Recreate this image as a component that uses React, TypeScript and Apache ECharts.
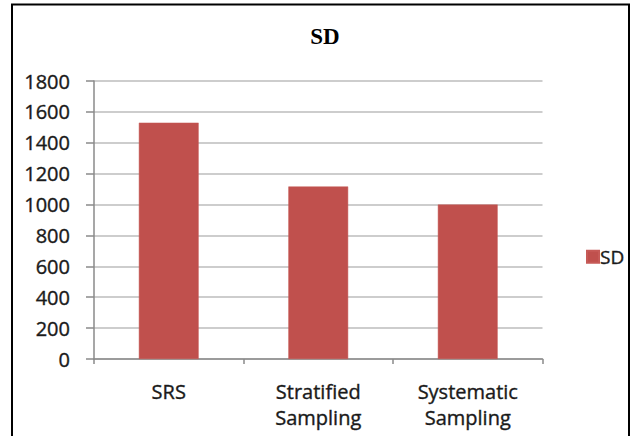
import React, { useEffect, useRef } from "react";
import * as echarts from "echarts";

const categories = ["SRS", "Stratified\nSampling", "Systematic\nSampling"];
const sdValues = [1530, 1117, 1000];
const seriesName = "SD";
const titleText = "SD";

export default function App() {
  const ref = useRef<HTMLDivElement>(null);
  useEffect(() => {
    if (!ref.current) return;
    const chart = echarts.init(ref.current, null, { renderer: "svg" });
    const font = "Open Sans";
    const heavy = { textBorderColor: "#333333", textBorderWidth: 0.4 };
    chart.setOption({
      animation: false,
      backgroundColor: "#ffffff",
      graphic: [
        {
          type: "rect",
          shape: { x: 12, y: 4.5, width: 617, height: 440 },
          style: { fill: "none", stroke: "#000000", lineWidth: 2 },
          z: 100,
        },
        {
          type: "text",
          x: 325,
          y: 36,
          style: {
            text: titleText,
            font: "bold 23px 'Liberation Serif'",
            fill: "#000000",
            textAlign: "center",
            textVerticalAlign: "middle",
          },
        },
      ],
      legend: {
        data: [seriesName],
        left: 581,
        top: 242,
        orient: "vertical",
        itemWidth: 12,
        itemHeight: 12,
        itemGap: 4,
        icon: "rect",
        textStyle: { fontFamily: font, fontSize: 19, color: "#1a1a1a", padding: [0, 0, 0, -4], ...heavy },
      },
      grid: { left: 94, right: 89.5, top: 81, bottom: 77, containLabel: false },
      xAxis: {
        type: "category",
        data: categories,
        axisLine: { show: true, lineStyle: { color: "#8a8a8a", width: 1.5 } },
        axisTick: { show: true, length: 5, alignWithLabel: false, lineStyle: { color: "#8a8a8a", width: 1.5 } },
        axisLabel: {
          margin: 19,
          fontFamily: font,
          fontSize: 20,
          lineHeight: 26,
          color: "#1a1a1a",
          ...heavy,
        },
      },
      yAxis: {
        type: "value",
        min: 0,
        max: 1800,
        interval: 200,
        axisLine: { show: true, lineStyle: { color: "#8a8a8a", width: 1.5 } },
        axisTick: { show: true, length: 8, lineStyle: { color: "#8a8a8a", width: 1.5 } },
        axisLabel: {
          margin: 24,
          fontFamily: font,
          fontSize: 20,
          color: "#1a1a1a",
          formatter: (v: number) => String(v),
          ...heavy,
        },
        splitLine: { show: true, lineStyle: { color: "#bdbdbd", width: 1.5 } },
      },
      series: [
        {
          name: seriesName,
          type: "bar",
          data: sdValues,
          barWidth: "40%",
          itemStyle: { color: "#c0504d", borderColor: "#c65a57", borderWidth: 0.5 },
        },
      ],
    });
    return () => chart.dispose();
  }, []);
  return (
    <div
      ref={ref}
      style={{ position: "fixed", left: 0, top: 0, width: 632, height: 436 }}
    />
  );
}
